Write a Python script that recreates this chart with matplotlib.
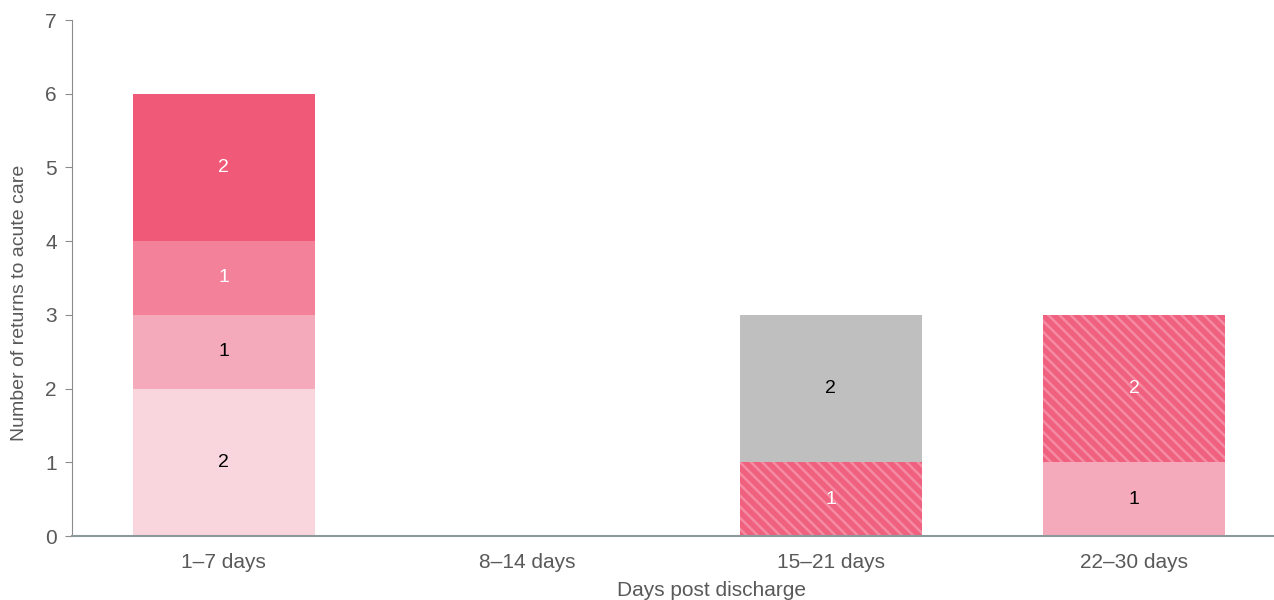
import matplotlib
matplotlib.use("Agg")
import matplotlib.pyplot as plt
import numpy as np

plt.rcParams['font.family'] = ['Liberation Sans', 'DejaVu Sans']
plt.rcParams['hatch.linewidth'] = 1.8

categories = ["1\u20137 days", "8\u201314 days", "15\u201321 days", "22\u201330 days"]
series_a = [2, 0, 0, 0]
series_b = [1, 0, 0, 1]
series_c = [1, 0, 0, 0]
series_d = [2, 0, 0, 0]
series_hatched = [0, 0, 1, 2]
series_grey = [0, 0, 2, 0]

series = [series_a, series_b, series_c, series_d, series_hatched, series_grey]
colors = ["#F9D5DE", "#F5AABB", "#F38199", "#F05A78", "#F0607F", "#BFBFBF"]
hatches = [None, None, None, None, "\\\\\\", None]
hatch_colors = [None, None, None, None, "#F48BA3", None]
text_colors = ["black", "black", "white", "white", "white", "black"]

fig = plt.figure(figsize=(12.74, 6.0), dpi=100)
ax = fig.add_axes([72/1274, 64/600, 1 - 72/1274, 516/600])

x = np.arange(len(categories))
bottom = np.zeros(len(categories))
for vals, c, h, hc, tc in zip(series, colors, hatches, hatch_colors, text_colors):
    vals = np.array(vals, dtype=float)
    if h:
        ax.bar(x, vals, 0.6, bottom=bottom, color=c, hatch=h,
               edgecolor=hc, linewidth=0)
    else:
        ax.bar(x, vals, 0.6, bottom=bottom, color=c, linewidth=0)
    for xi, v, b in zip(x, vals, bottom):
        if v > 0:
            ax.text(xi, b + v / 2, f"{int(v)}", ha="center", va="center",
                    color=tc, fontsize=14)
    bottom += vals

ax.set_xlim(-0.5, 3.46)
ax.set_ylim(0, 7)
ax.set_yticks(range(8))
ax.set_xticks(x)
ax.set_xticklabels(categories)
ax.tick_params(axis='x', length=0, labelsize=15, colors="#595959", pad=12)
ax.tick_params(axis='y', length=5, labelsize=15, colors="#595959", pad=6,
               color="#8C8C8C")
for s in ["top", "right"]:
    ax.spines[s].set_visible(False)
ax.spines["left"].set_color("#8C8C8C")
ax.spines["bottom"].set_color("#8C999A")
ax.spines["bottom"].set_linewidth(1.5)
ax.set_xlabel("Days post discharge", fontsize=15, color="#595959")
ax.xaxis.set_label_coords(0.532, -0.088)
ax.set_ylabel("Number of returns to acute care", fontsize=14, color="#595959")
ax.yaxis.set_label_coords(-0.037, 0.452)

fig.savefig("out.png", dpi=100)
